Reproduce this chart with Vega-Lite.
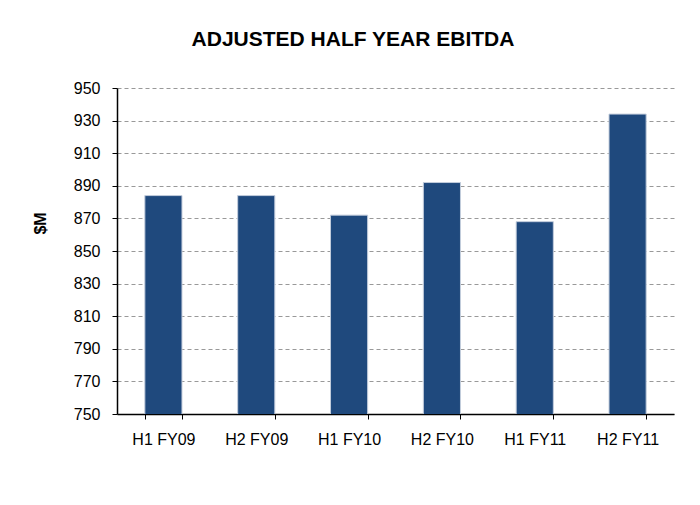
{
  "$schema": "https://vega.github.io/schema/vega-lite/v6.json",
  "width": 557,
  "height": 326,
  "autosize": {"type": "none"},
  "padding": {"left": 117, "top": 88, "right": 26, "bottom": 91},
  "background": "white",
  "title": {
    "text": "ADJUSTED HALF YEAR EBITDA",
    "font": "Liberation Sans",
    "fontSize": 21,
    "fontWeight": "bold",
    "color": "black",
    "anchor": "middle",
    "frame": "bounds",
    "offset": 30
  },
  "data": {
    "values": [
      {"period": "H1 FY09", "ebitda": 884},
      {"period": "H2 FY09", "ebitda": 884},
      {"period": "H1 FY10", "ebitda": 872},
      {"period": "H2 FY10", "ebitda": 892},
      {"period": "H1 FY11", "ebitda": 868},
      {"period": "H2 FY11", "ebitda": 934}
    ]
  },
  "mark": {"type": "bar", "color": "#1F497D", "stroke": "#c3cddc", "strokeWidth": 1, "clip": true},
  "encoding": {
    "x": {
      "field": "period",
      "type": "nominal",
      "sort": null,
      "scale": {"paddingInner": 0.6, "paddingOuter": 0.3},
      "axis": {
        "title": null,
        "labelAngle": 0,
        "labelFont": "Liberation Sans",
        "labelFontSize": 16,
        "labelColor": "black",
        "labelPadding": 12,
        "domainColor": "black",
        "domainWidth": 1.5,
        "tickColor": "black",
        "tickSize": 5,
        "tickBand": "extent",
        "grid": false
      }
    },
    "y": {
      "field": "ebitda",
      "type": "quantitative",
      "scale": {"domain": [750, 950], "nice": false, "zero": false},
      "axis": {
        "title": "$M",
        "titleFont": "Liberation Sans",
        "titleFontSize": 16,
        "titleFontWeight": "bold",
        "titleColor": "black",
        "titleAngle": -90,
        "titleAlign": "center",
        "titleBaseline": "middle",
        "titleX": -77,
        "titleY": 135,
        "values": [750, 770, 790, 810, 830, 850, 870, 890, 910, 930, 950],
        "labelFont": "Liberation Sans",
        "labelFontSize": 16,
        "labelColor": "black",
        "labelPadding": 12,
        "domainColor": "black",
        "domainWidth": 1.5,
        "tickColor": "black",
        "tickSize": 5,
        "grid": true,
        "gridColor": "#999999",
        "gridDash": [4, 3],
        "gridWidth": 1
      }
    }
  },
  "config": {"view": {"stroke": null}}
}
